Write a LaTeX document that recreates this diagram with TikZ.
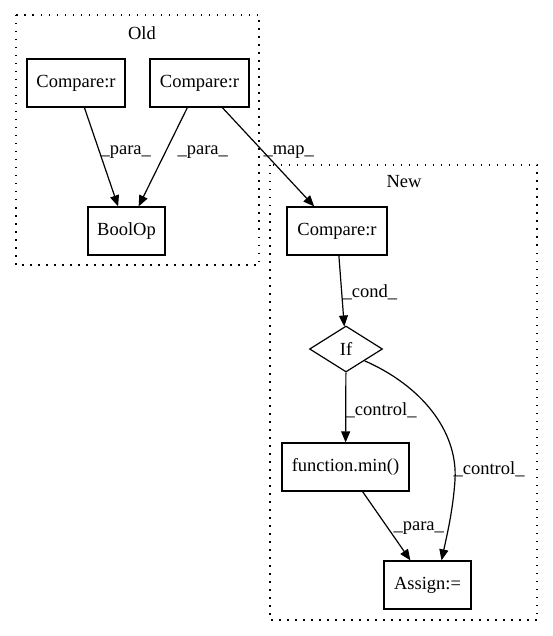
\documentclass[tikz,border=0pt]{standalone}
\usepackage{fontspec}
\setmainfont{Liberation Serif}
\usetikzlibrary{arrows.meta,shapes.geometric}

\begin{document}
\begin{tikzpicture}[x=1pt,y=-1pt,line width=1.2pt,
    box/.style={draw,minimum height=48pt,inner sep=0pt,font=\fontsize{18.5}{20}\selectfont},
    lbl/.style={anchor=west,inner sep=0pt,font=\fontsize{18.5}{20}\selectfont},
    edge/.style={-{Triangle[length=11pt,width=9pt]}},
    cluster/.style={draw,line width=1.3pt,dash pattern=on 1.5pt off 6.5pt}]
    \useasboundingbox (0,0) rectangle (553,636);

    % clusters
    \draw[cluster] (16,15) rectangle (259,265);
    \node[lbl,anchor=center] (old) at (142,33) {Old};
    \draw[cluster] (270,165) rectangle (537,620);
    \node[lbl,anchor=center] (new) at (404,182) {New};

    % nodes
    \node[box,minimum width=98pt] (cmpa) at (76,83) {Compare:r};
    \node[box,minimum width=99pt] (cmpb) at (199.5,83) {Compare:r};
    \node[box,minimum width=77pt] (bool) at (126.5,231) {BoolOp};
    \node[box,minimum width=100pt] (cmpc) at (337,231) {Compare:r};
    \node[draw,diamond,inner sep=0pt,minimum width=73pt,minimum height=46pt,font=\fontsize{18.5}{20}\selectfont] (if) at (346,349) {If};
    \node[box,minimum width=127pt] (fmin) at (345.5,467) {function.min()};
    \node[box,minimum width=87pt] (asg) at (427.5,585) {Assign:=};

    % edges
    \draw[edge] (cmpa) -- (bool);
    \draw[edge] (cmpb) -- (bool);
    \draw[edge] (cmpb) -- (cmpc);
    \draw[edge] (cmpc) -- (if);
    \draw[edge] (if) -- (fmin);
    \draw[edge] (fmin) -- (asg);
    \draw[edge] (if.south east) .. controls (420,385) and (458,430) .. (455,480)
        .. controls (453,510) and (447,535) .. ([xshift=14pt]asg.north);

    % edge labels
    \node[lbl] (l1) at (100,152) {\_para\_};
    \node[lbl] (l2) at (177,152) {\_para\_};
    \node[lbl] (l3) at (263,152) {\_map\_};
    \node[lbl] (l4) at (342,292) {\_cond\_};
    \node[lbl] (l5) at (345,410) {\_control\_};
    \node[lbl] (l6) at (453,469) {\_control\_};
    \node[lbl] (l7) at (393,528) {\_para\_};
\end{tikzpicture}
\end{document}
